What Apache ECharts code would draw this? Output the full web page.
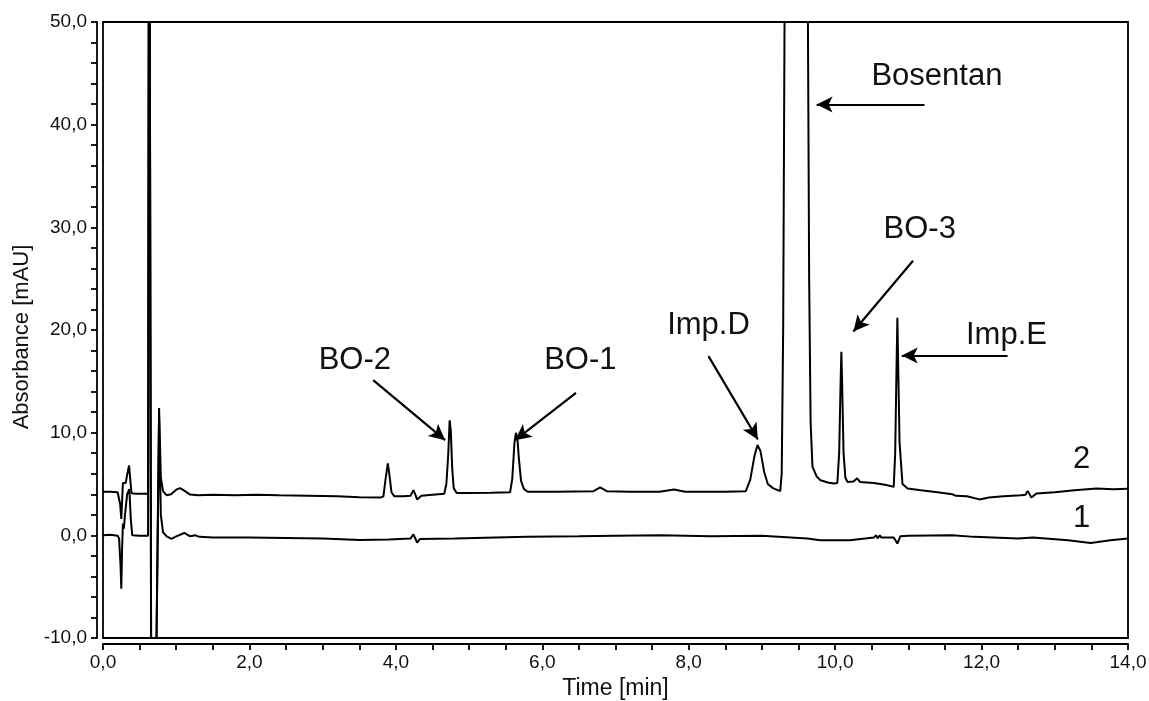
<!DOCTYPE html>
<html>
<head>
<meta charset="utf-8">
<script src="https://cdn.jsdelivr.net/npm/echarts@6/dist/echarts.min.js"></script>
<style>
html,body{margin:0;padding:0;background:#fff;}
#chart{width:1149px;height:701px;}
</style>
</head>
<body>
<div id="chart"></div>
<script>
// ---- Data (time [min], absorbance [mAU]) ----
var trace1 = [ // blank, curve "1"
  [0,0.0],[0.1,0.05],[0.2,-0.05],[0.22,-0.3],[0.24,-3.0],[0.25,-5.2],[0.262,-1.0],[0.272,1.15],
  [0.285,0.66],[0.30,2.0],[0.33,4.0],[0.36,4.5],[0.38,1.5],[0.40,0.0],[0.5,-0.05],[0.615,-0.05],
  [0.63,80],[0.66,-20],[0.715,-20],[0.766,11.5],[0.79,2.0],[0.82,0.3],[0.87,-0.1],[0.935,-0.35],
  [1.0,-0.1],[1.11,0.23],[1.19,-0.09],[1.26,0.0],[1.32,-0.15],[1.5,-0.2],[2.0,-0.2],[2.5,-0.25],
  [3.0,-0.3],[3.51,-0.45],[3.9,-0.4],[4.2,-0.32],[4.24,0.1],[4.29,-0.7],[4.33,-0.35],[4.8,-0.3],
  [5.79,-0.15],[6.5,-0.1],[7.0,-0.05],[7.61,0.0],[8.3,-0.1],[9.0,-0.05],[9.62,-0.31],[9.8,-0.48],
  [10.2,-0.48],[10.53,-0.2],[10.56,0.0],[10.58,-0.3],[10.61,0.0],[10.63,-0.2],[10.8,-0.2],
  [10.85,-0.8],[10.89,-0.1],[11.0,-0.05],[11.6,0.0],[11.9,-0.15],[12.5,-0.31],[12.7,-0.2],
  [12.72,-0.35],[13.18,-0.48],[13.49,-0.74],[13.76,-0.48],[14.0,-0.31]
];
var trace2 = [ // sample, curve "2"
  [0,4.25],[0.1,4.25],[0.2,4.2],[0.22,4.1],[0.235,3.0],[0.25,1.6],[0.262,3.5],[0.272,5.1],
  [0.29,5.0],[0.31,5.1],[0.33,5.9],[0.356,6.8],[0.375,5.2],[0.39,4.1],[0.45,4.05],[0.55,4.05],
  [0.615,4.05],[0.63,80],[0.66,-20],[0.715,-20],[0.766,12.4],[0.79,5.6],[0.82,4.3],[0.87,3.9],
  [0.93,4.0],[1.0,4.45],[1.05,4.6],[1.1,4.4],[1.19,3.97],[1.3,3.9],[1.5,3.95],[1.8,3.9],
  [2.1,3.95],[2.4,3.9],[2.8,3.85],[3.2,3.8],[3.5,3.7],[3.79,3.68],[3.83,3.8],[3.86,5.5],
  [3.89,7.0],[3.91,6.0],[3.94,4.2],[3.98,3.8],[4.1,3.8],[4.2,3.85],[4.24,4.4],[4.27,3.9],
  [4.29,3.5],[4.35,3.85],[4.5,3.95],[4.66,4.05],[4.69,5.0],[4.715,7.8],[4.735,11.2],[4.75,10.2],
  [4.77,6.5],[4.79,4.6],[4.83,4.13],[5.0,4.13],[5.3,4.15],[5.56,4.2],[5.59,5.5],[5.62,9.0],
  [5.64,9.98],[5.66,9.5],[5.68,7.5],[5.71,5.3],[5.75,4.5],[5.8,4.25],[6.2,4.25],[6.7,4.3],
  [6.79,4.66],[6.88,4.3],[7.2,4.25],[7.6,4.25],[7.8,4.46],[7.95,4.25],[8.5,4.25],[8.78,4.3],
  [8.84,5.4],[8.9,7.8],[8.94,8.8],[8.98,8.2],[9.03,6.2],[9.08,5.0],[9.15,4.6],[9.25,4.3],
  [9.27,6],[9.29,20],[9.31,52],[9.34,110],[9.47,200],[9.58,110],[9.625,55],[9.645,25],
  [9.665,11],[9.69,6.7],[9.75,5.7],[9.80,5.37],[9.9,5.15],[9.98,5.05],[10.03,5.1],[10.055,8],
  [10.075,15],[10.085,17.88],[10.095,15],[10.115,8],[10.14,5.6],[10.17,5.2],[10.25,5.25],
  [10.30,5.55],[10.34,5.2],[10.53,5.1],[10.7,4.9],[10.80,4.72],[10.82,8],[10.84,17],[10.85,21.2],
  [10.86,17],[10.88,9],[10.92,5.0],[10.99,4.56],[11.17,4.4],[11.4,4.2],[11.6,4.0],[11.62,4.1],
  [11.65,3.85],[11.8,3.8],[11.97,3.5],[12.1,3.68],[12.3,3.8],[12.54,3.9],[12.6,3.95],[12.63,4.33],
  [12.68,3.68],[12.75,4.07],[13.0,4.2],[13.27,4.4],[13.57,4.56],[13.8,4.5],[14.0,4.54]
];
// annotation labels: [text, time, absorbance]
var peakLabels = [
  ['BO-2',3.44,17.03],['BO-1',6.52,17.03],['Imp.D',8.27,20.48],['Bosentan',11.39,44.7],
  ['BO-3',11.155,29.76],['Imp.E',12.34,19.43],['2',13.365,7.35],['1',13.365,1.6]
];
// arrows: [fromTime, fromAbs, toTime, toAbs]
var arrows = [
  [3.69,15.12,4.673,9.27],[6.46,13.87,5.63,9.27],[8.27,17.46,8.944,9.34],
  [11.22,41.96,9.747,41.96],[11.064,26.74,10.249,19.85],[12.355,17.52,10.91,17.52]
];
var xTicks = {min:0, max:14, step:0.5, labelEvery:2};
var yTicks = {min:-10, max:50, step:2, labelEvery:10};

var FONT = 'Liberation Sans, Arial, sans-serif';
function fmt(v, every){
  var r = v/every;
  if (Math.abs(r - Math.round(r)) > 1e-6) return '';
  return v.toFixed(1).replace('.', ',');
}
var chart = echarts.init(document.getElementById('chart'), null, {renderer:'canvas'});
var option = {
  animation:false,
  backgroundColor:'#fff',
  grid:{left:103,right:21,top:22,bottom:63,show:true,borderColor:'#000',borderWidth:1.8,
        backgroundColor:'transparent',containLabel:false,outerBoundsMode:'none'},
  xAxis:{
    type:'value',min:xTicks.min,max:xTicks.max,interval:xTicks.step,offset:6,
    name:'Time [min]',nameLocation:'middle',nameGap:33,
    nameTextStyle:{fontFamily:FONT,fontSize:23,color:'#111'},
    axisLine:{show:true,onZero:false,lineStyle:{color:'#000',width:1.8}},
    axisTick:{show:true,inside:false,length:6,lineStyle:{color:'#000',width:1.8}},
    axisLabel:{fontFamily:FONT,fontSize:19,color:'#111',margin:9,
      formatter:function(v){return fmt(v,xTicks.labelEvery);}},
    splitLine:{show:false}
  },
  yAxis:{
    type:'value',min:yTicks.min,max:yTicks.max,interval:yTicks.step,offset:6,
    name:'Absorbance [mAU]',nameLocation:'middle',nameGap:64,nameRotate:90,
    nameTextStyle:{fontFamily:FONT,fontSize:22,color:'#111',padding:[0,14,0,0]},
    axisLine:{show:true,onZero:false,lineStyle:{color:'#000',width:1.8}},
    axisTick:{show:true,inside:false,length:6,lineStyle:{color:'#000',width:1.8}},
    axisLabel:{fontFamily:FONT,fontSize:19,color:'#111',margin:10,
      formatter:function(v){return fmt(v,yTicks.labelEvery);}},
    splitLine:{show:false}
  },
  series:[
    {type:'line',name:'1',data:trace1,symbol:'none',clip:true,silent:true,
     lineStyle:{color:'#000',width:2}},
    {type:'line',name:'2',data:trace2,symbol:'none',clip:true,silent:true,
     lineStyle:{color:'#000',width:2},
     markLine:{silent:true,symbol:['none','arrow'],symbolSize:[12,16],
       lineStyle:{color:'#000',width:2.2,type:'solid'},label:{show:false},
       emphasis:{disabled:true},
       data:arrows.map(function(a){return [{coord:[a[0],a[1]]},{coord:[a[2],a[3]]}];})},
     markPoint:{silent:true,symbol:'circle',symbolSize:0,
       label:{show:true,position:'inside',fontFamily:FONT,fontSize:31,color:'#111',
              formatter:function(p){return p.name;}},
       data:peakLabels.map(function(l){return {name:l[0],coord:[l[1],l[2]]};})}
    }
  ]
};
chart.setOption(option);
</script>
</body>
</html>
